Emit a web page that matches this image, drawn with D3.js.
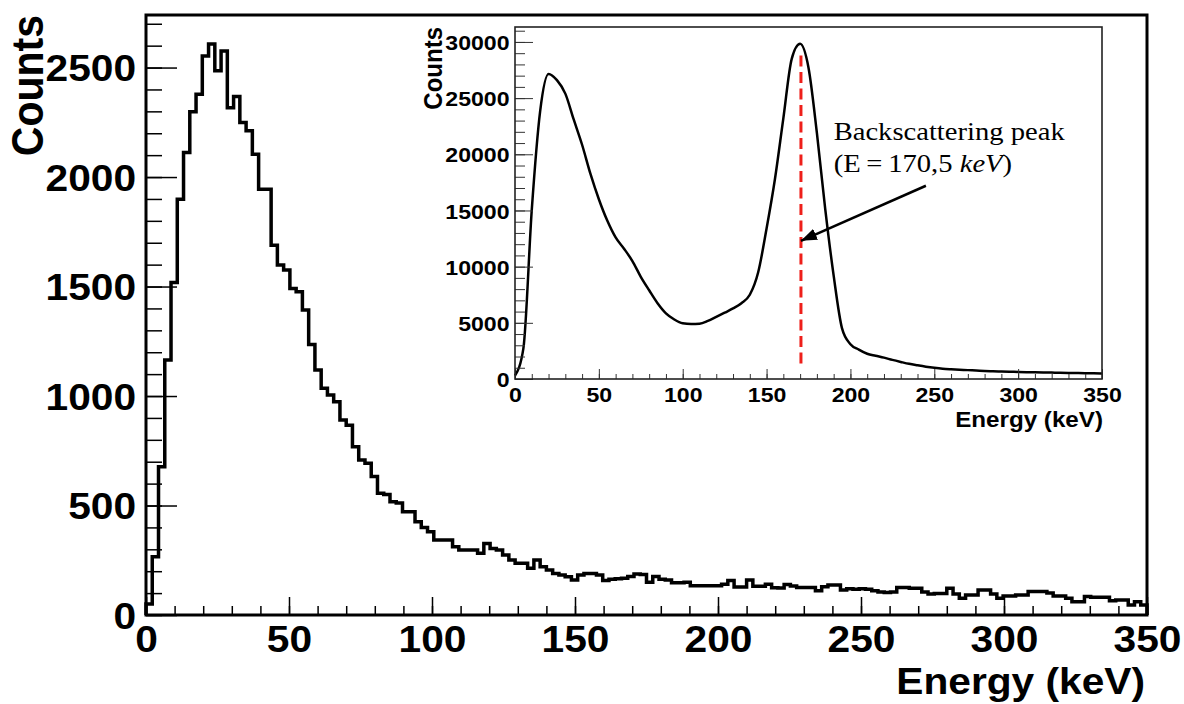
<!DOCTYPE html>
<html>
<head>
<meta charset="utf-8">
<script src="https://cdn.jsdelivr.net/npm/d3@7/dist/d3.min.js"></script>
<style>
  body { margin: 0; background: #fff; }
  svg text { font-family: "Liberation Sans", Arial, Helvetica, sans-serif; font-weight: bold; }
</style>
</head>
<body>
<svg id="chart" width="1184" height="704"></svg>
<script>
// main spectrum, 160 bins from 0 to 350 keV
var mainCounts = [
	50, 266, 677, 1164, 1518, 1899, 2112, 2298, 2378, 2553,
	2607, 2485, 2576, 2317, 2368, 2249, 2211, 2104, 1944, 1944,
	1689, 1598, 1575, 1491, 1476, 1393, 1235, 1119, 1035, 1005,
	974, 890, 867, 768, 708, 693, 632, 556, 550, 517,
	511, 472, 472, 426, 400, 380, 342, 342, 342, 312,
	297, 297, 297, 282, 327, 304, 297, 274, 251, 236,
	236, 213, 251, 220, 205, 190, 183, 175, 160, 183,
	190, 190, 183, 158, 163, 165, 168, 176, 187, 185,
	150, 176, 163, 160, 147, 147, 150, 134, 134, 134,
	134, 134, 140, 158, 128, 128, 160, 131, 131, 140,
	125, 123, 139, 132, 126, 126, 126, 111, 129, 137,
	137, 114, 120, 118, 120, 118, 111, 105, 103, 105,
	126, 126, 122, 122, 105, 96, 98, 98, 122, 96,
	76, 91, 91, 114, 114, 96, 76, 87, 87, 91,
	91, 107, 107, 107, 100, 87, 87, 76, 61, 61,
	84, 81, 81, 81, 65, 68, 68, 46, 61, 46
];
var mainYTicks = [0, 500, 1000, 1500, 2000, 2500];
var energyTicks = [0, 50, 100, 150, 200, 250, 300, 350];

// inset spectrum
var insetEnergy = [
	0, 5, 10, 15, 20, 25, 30, 35, 40, 45, 50, 55, 60, 65, 70, 75, 80, 85,
	90, 95, 100, 105, 110, 115, 120, 125, 130, 135, 140, 145, 150, 155, 160, 165,
	170, 175, 180, 185, 190, 195, 200, 205, 210, 215, 220, 225, 230, 235, 240, 245,
	250, 255, 260, 265, 270, 275, 280, 285, 290, 295, 300, 305, 310, 315, 320, 325,
	330, 335, 340, 345, 350
];
var insetCounts = [
	300, 2725, 15050, 23850, 27150, 26600, 25400, 23100, 20850, 18250, 16000, 14100, 12600, 11600, 10500, 9100, 7900, 6750,
	5850, 5300, 4960, 4890, 4920, 5170, 5530, 5900, 6280, 6750, 7500, 9500, 13390, 17800, 23200, 28500,
	29830, 27700, 21900, 15100, 9200, 4500, 3100, 2620, 2250, 2070, 1900, 1700, 1520, 1350, 1220, 1100,
	1000, 920, 870, 830, 790, 760, 720, 690, 670, 650, 630, 610, 600, 585, 570, 560,
	545, 530, 520, 505, 500
];
var insetYTicks = [0, 5000, 10000, 15000, 20000, 25000, 30000];

// annotation
var peakEnergy = 170.5;
var peakLineCounts = [1250, 28800];
var arrowFrom = [245, 17200];
var arrowTo = [170.5, 12300];
var noteAt = [190, 21300];
var noteLine2 = 18420;

var svg = d3.select("#chart");
var sx = 1.1;   // labels in the picture are a bit wide
var fmt = d3.format("d");

// ---------------- main plot ----------------
var x = d3.scaleLinear().domain([0, 350]).range([146, 1147]);
var y = d3.scaleLinear().domain([0, 2740]).range([615, 15]);

var binW = 350 / mainCounts.length;
var pts = [[0, 0]];
mainCounts.forEach(function(c, i) {
	pts.push([i * binW, c], [(i + 1) * binW, c]);
});
pts.push([350, 0]);

var line = d3.line().x(d => x(d[0])).y(d => y(d[1]));

svg.append("path")
	.datum(pts)
	.attr("fill", "none")
	.attr("stroke", "#000")
	.attr("stroke-width", 3.5)
	.attr("stroke-linejoin", "miter")
	.attr("d", line);

function styleAxis(g, size) {
	g.select(".domain").remove();
	g.attr("font-family", null).attr("font-size", null);
	g.selectAll(".tick line").attr("stroke", "#000").attr("stroke-width", 1.5);
	g.selectAll(".tick text")
		.attr("fill", "#000")
		.style("font-size", size + "px")
		.attr("transform", "scale(" + sx + ",1)");
}

// minor ticks
svg.append("g")
	.attr("transform", "translate(146,0)")
	.call(d3.axisLeft(y).tickValues(d3.range(0, 2701, 100)).tickSize(-16).tickFormat("").tickSizeOuter(0))
	.call(g => styleAxis(g, 10));
svg.append("g")
	.attr("transform", "translate(0,615)")
	.call(d3.axisBottom(x).tickValues(d3.range(0, 351, 10)).tickSize(-9).tickFormat("").tickSizeOuter(0))
	.call(g => styleAxis(g, 10));

// major ticks
svg.append("g")
	.attr("transform", "translate(146,0)")
	.call(d3.axisLeft(y).tickValues(mainYTicks).tickFormat(fmt).tickSize(-31).tickPadding(9).tickSizeOuter(0))
	.call(g => styleAxis(g, 37))
	.selectAll(".tick text").attr("dy", "0.36em");
svg.append("g")
	.attr("transform", "translate(0,615)")
	.call(d3.axisBottom(x).tickValues(energyTicks).tickFormat(fmt).tickSize(-18).tickPadding(11).tickSizeOuter(0))
	.call(g => styleAxis(g, 37));

svg.append("rect")
	.attr("x", 146).attr("y", 15)
	.attr("width", 1001).attr("height", 600)
	.attr("fill", "none")
	.attr("stroke", "#000")
	.attr("stroke-width", 3);

svg.append("text")
	.attr("transform", "translate(1145,694) scale(" + sx + ",1)")
	.attr("text-anchor", "end")
	.style("font-size", "37px")
	.text("Energy (keV)");

svg.append("text")
	.attr("transform", "translate(43,15) rotate(-90) scale(1," + sx + ")")
	.attr("text-anchor", "end")
	.style("font-size", "41px")
	.text("Counts");

// ---------------- inset ----------------
var xi = d3.scaleLinear().domain([0, 350]).range([515, 1102]);
var yi = d3.scaleLinear().domain([0, 31330]).range([379, 27]);

svg.append("rect")
	.attr("x", 515).attr("y", 27)
	.attr("width", 587).attr("height", 352)
	.attr("fill", "#fff");

var insetLine = d3.line()
	.x((d, i) => xi(insetEnergy[i]))
	.y(d => yi(d))
	.curve(d3.curveMonotoneX);

svg.append("path")
	.datum(insetCounts)
	.attr("fill", "none")
	.attr("stroke", "#000")
	.attr("stroke-width", 2.5)
	.attr("d", insetLine);

svg.append("g")
	.attr("transform", "translate(515,0)")
	.call(d3.axisLeft(yi).tickValues(d3.range(0, 31001, 1000)).tickSize(-10).tickFormat("").tickSizeOuter(0))
	.call(g => styleAxis(g, 10))
	.selectAll(".tick line").attr("stroke", "#333").attr("stroke-width", 1);
svg.append("g")
	.attr("transform", "translate(0,379)")
	.call(d3.axisBottom(xi).tickValues(d3.range(0, 351, 10)).tickSize(-5).tickFormat("").tickSizeOuter(0))
	.call(g => styleAxis(g, 10))
	.selectAll(".tick line").attr("stroke", "#333").attr("stroke-width", 1);

svg.append("g")
	.attr("transform", "translate(515,0)")
	.call(d3.axisLeft(yi).tickValues(insetYTicks).tickFormat(fmt).tickSize(-18).tickPadding(5).tickSizeOuter(0))
	.call(g => styleAxis(g, 21))
	.call(g => g.selectAll(".tick line").attr("stroke", "#333").attr("stroke-width", 1))
	.selectAll(".tick text").attr("dy", "0.36em");
svg.append("g")
	.attr("transform", "translate(0,379)")
	.call(d3.axisBottom(xi).tickValues(energyTicks).tickFormat(fmt).tickSize(-10).tickPadding(8).tickSizeOuter(0))
	.call(g => styleAxis(g, 21))
	.selectAll(".tick line").attr("stroke", "#333").attr("stroke-width", 1);

svg.append("rect")
	.attr("x", 515).attr("y", 27)
	.attr("width", 587).attr("height", 352)
	.attr("fill", "none")
	.attr("stroke", "#222")
	.attr("stroke-width", 1.6);

svg.append("text")
	.attr("transform", "translate(1103,427) scale(" + sx + ",1)")
	.attr("text-anchor", "end")
	.style("font-size", "22px")
	.text("Energy (keV)");

svg.append("text")
	.attr("transform", "translate(442,27) rotate(-90) scale(1," + sx + ")")
	.attr("text-anchor", "end")
	.style("font-size", "24px")
	.text("Counts");

// backscattering peak marker
svg.append("line")
	.attr("x1", xi(peakEnergy)).attr("x2", xi(peakEnergy))
	.attr("y1", yi(peakLineCounts[1])).attr("y2", yi(peakLineCounts[0]))
	.attr("stroke", "#ee1f1a")
	.attr("stroke-width", 3)
	.attr("stroke-dasharray", "11,5.5");

svg.append("defs").append("marker")
	.attr("id", "head")
	.attr("markerUnits", "userSpaceOnUse")
	.attr("viewBox", "0 0 16 12")
	.attr("refX", 16).attr("refY", 6)
	.attr("markerWidth", 16).attr("markerHeight", 12)
	.attr("orient", "auto")
	.append("path")
	.attr("d", "M0,0 L16,6 L0,12 Z")
	.attr("fill", "#000");

svg.append("line")
	.attr("x1", xi(arrowFrom[0])).attr("y1", yi(arrowFrom[1]))
	.attr("x2", xi(arrowTo[0])).attr("y2", yi(arrowTo[1]))
	.attr("stroke", "#000")
	.attr("stroke-width", 2.5)
	.attr("marker-end", "url(#head)");

var note = svg.append("g")
	.attr("transform", "translate(" + xi(noteAt[0]) + ",0)");

note.append("text")
	.attr("transform", "translate(0," + yi(noteAt[1]) + ") scale(" + sx + ",1)")
	.style("font-family", "'Liberation Serif', 'Times New Roman', serif")
	.style("font-weight", "normal")
	.style("font-size", "26px")
	.text("Backscattering peak");

var t2 = note.append("text")
	.attr("transform", "translate(0," + yi(noteLine2) + ") scale(" + sx + ",1)")
	.style("font-family", "'Liberation Serif', 'Times New Roman', serif")
	.style("font-weight", "normal")
	.style("font-size", "26px");
t2.append("tspan").text("(E\u2009=\u2009170,5 ");
t2.append("tspan").style("font-style", "italic").text("keV");
t2.append("tspan").text(")");
</script>
</body>
</html>
